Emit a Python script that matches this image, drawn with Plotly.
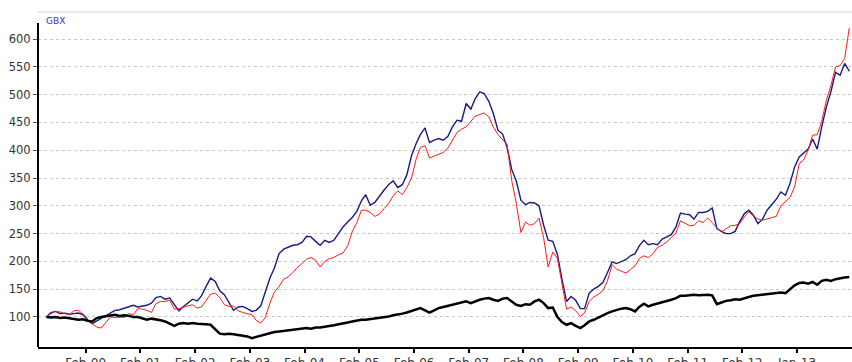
import pandas as pd
import plotly.graph_objects as go

# Monthly observations, rebased to 100 at the start (GBX)
dates = pd.date_range("1999-05-01", periods=177, freq="MS") + pd.Timedelta(days=14)

fund = [
    100, 108, 110, 106, 107, 105, 106, 107, 104, 94,
    88, 93, 98, 103, 108, 112, 113, 116, 118, 121,
    118, 120, 121, 125, 135, 137, 132, 134, 122, 111,
    119, 126, 132, 129, 138, 155, 170, 164, 147, 140,
    125, 112, 118, 119, 115, 110, 112, 120, 145, 170,
    188, 214, 222, 226, 229, 230, 234, 245, 244, 236,
    229, 238, 234, 238, 250, 262, 271, 279, 290, 309,
    320, 301, 306, 318, 328, 338, 345, 333, 338, 356,
    390, 412, 428, 440, 414, 418, 421, 418, 425, 442,
    454, 452, 484, 474, 492, 505, 502, 488, 466, 436,
    429, 405, 365, 345, 310, 302, 306, 305, 300, 265,
    238, 236, 212, 168, 128, 137, 130, 115, 115, 143,
    150, 155, 162, 180, 199, 196, 199, 203, 210, 214,
    228, 238, 230, 232, 230, 240, 244, 248, 262, 287,
    285, 284, 276, 288, 288, 290, 296, 259, 254, 250,
    250, 254, 272, 286, 292, 283, 268, 276, 292, 302,
    312, 325, 319, 340, 370, 388, 394, 402, 420, 402,
    442, 478, 506, 540, 535, 556, 542,
]

sector = [
    100, 106, 110, 109, 106, 104, 111, 112, 105, 97,
    88, 82, 80, 90, 100, 99, 100, 99, 106, 104,
    115, 114, 112, 108, 124, 128, 128, 130, 114, 115,
    118, 120, 122, 116, 118, 129, 141, 143, 135, 122,
    119, 120, 111, 108, 106, 104, 94, 89, 99, 125,
    145, 155, 168, 172, 180, 189, 196, 204, 207, 202,
    190, 200, 205, 207, 212, 215, 228, 253, 270, 292,
    292, 288, 281, 285, 295, 304, 318, 327, 320, 333,
    350, 384, 405, 408, 386, 389, 393, 396, 404, 418,
    432, 438, 442, 452, 461, 464, 467, 460, 442, 428,
    418, 410, 345, 305, 252, 271, 265, 268, 278, 242,
    190, 217, 205, 160, 114, 118, 111, 101, 107, 128,
    136, 141, 147, 165, 194, 186, 183, 179, 185, 192,
    205, 210, 207, 214, 225, 229, 235, 242, 251, 273,
    269, 264, 265, 273, 270, 278, 270, 260, 253, 258,
    264, 265, 268, 280, 289, 282, 276, 274, 276, 278,
    281, 300, 308, 315, 334, 376, 382, 400, 427, 428,
    452, 490, 517, 550, 552, 565, 620,
]

market = [
    100, 99, 100, 98, 99, 98, 97, 95, 96, 93,
    92, 98, 100, 101, 103, 104, 102, 103, 102, 100,
    100, 97, 95, 97, 96, 94, 92, 88, 84, 88,
    89, 88, 89, 88, 88, 87, 86, 78, 70, 69,
    70, 69, 68, 67, 65, 62, 64, 67, 68, 70,
    73, 74, 75, 76, 77, 78, 79, 80, 79, 81,
    81, 82, 83, 85, 87, 88, 90, 92, 94, 95,
    95, 96, 98, 99, 100, 101, 103, 104, 106, 108,
    111, 113, 116, 112, 108, 112, 116, 118, 120, 122,
    124, 126, 128, 125, 128, 131, 133, 134, 131, 129,
    133, 134, 128, 122, 120, 123, 122, 128, 131, 125,
    116, 117, 100, 91, 86, 89, 84, 80, 85, 92,
    95, 99, 104, 107, 110, 113, 115, 116, 114, 110,
    118, 124, 119, 122, 124, 126, 128, 131, 134, 138,
    138, 139, 140, 139, 140, 140, 139, 123, 126, 129,
    130, 132, 131, 134, 136, 138, 139, 140, 141, 142,
    142, 144, 143, 150, 157, 161, 162, 160, 163, 158,
    165, 167, 165, 168, 170, 171, 172,
]

tick_dates = [f"{y}-02-01" for y in range(2000, 2013)] + ["2013-01-31"]
tick_labels = [f"Feb-{y % 100:02d}" for y in range(2000, 2013)] + ["Jan-13"]
y_ticks = list(range(100, 601, 50))

Y_MIN, Y_MAX = 46, 648.6

fig = go.Figure()
fig.add_trace(go.Scatter(x=dates, y=fund, mode="lines", name="Fund",
                         line=dict(color="#1a1a80", width=1.4)))
fig.add_trace(go.Scatter(x=dates, y=sector, mode="lines", name="Sector",
                         line=dict(color="#ff1a1a", width=1)))
fig.add_trace(go.Scatter(x=dates, y=market, mode="lines", name="Index",
                         line=dict(color="#000000", width=2.5)))

fig.update_layout(
    width=852, height=362,
    margin=dict(l=38, r=0, t=12, b=15),
    paper_bgcolor="white", plot_bgcolor="white",
    showlegend=False,
    font=dict(family="DejaVu Sans", size=11, color="#333333"),
    xaxis=dict(
        type="date", range=["1999-03-20", "2014-02-02"],
        tickvals=tick_dates, ticktext=tick_labels,
        ticks="outside", ticklen=4, tickwidth=1.5, tickcolor="#000000",
        showline=True, linecolor="#000000", linewidth=2,
        showgrid=False, zeroline=False, automargin=False,
        ticklabelstandoff=0,
        tickfont=dict(size=12),
    ),
    yaxis=dict(
        range=[Y_MIN, Y_MAX], tickvals=y_ticks,
        ticks="outside", ticklen=4, tickcolor="#555555",
        showgrid=True, gridcolor="#c8c8c8", griddash="dot", gridwidth=1,
        showline=False, zeroline=False, automargin=False,
        tickfont=dict(size=11.5),
    ),
    shapes=[
        dict(type="line", xref="paper", yref="paper", x0=0, x1=1, y0=1, y1=1,
             line=dict(color="#cccccc", width=1)),
        dict(type="line", xref="paper", yref="y", x0=0, x1=0, y0=Y_MIN, y1=629,
             line=dict(color="#000000", width=2)),
    ],
    annotations=[
        dict(text="GBX", xref="paper", yref="paper", x=0, y=1,
             xanchor="left", yanchor="top", xshift=6, yshift=-2,
             showarrow=False, font=dict(size=9, color="#3333cc")),
    ],
)

fig.write_html("out.html")
